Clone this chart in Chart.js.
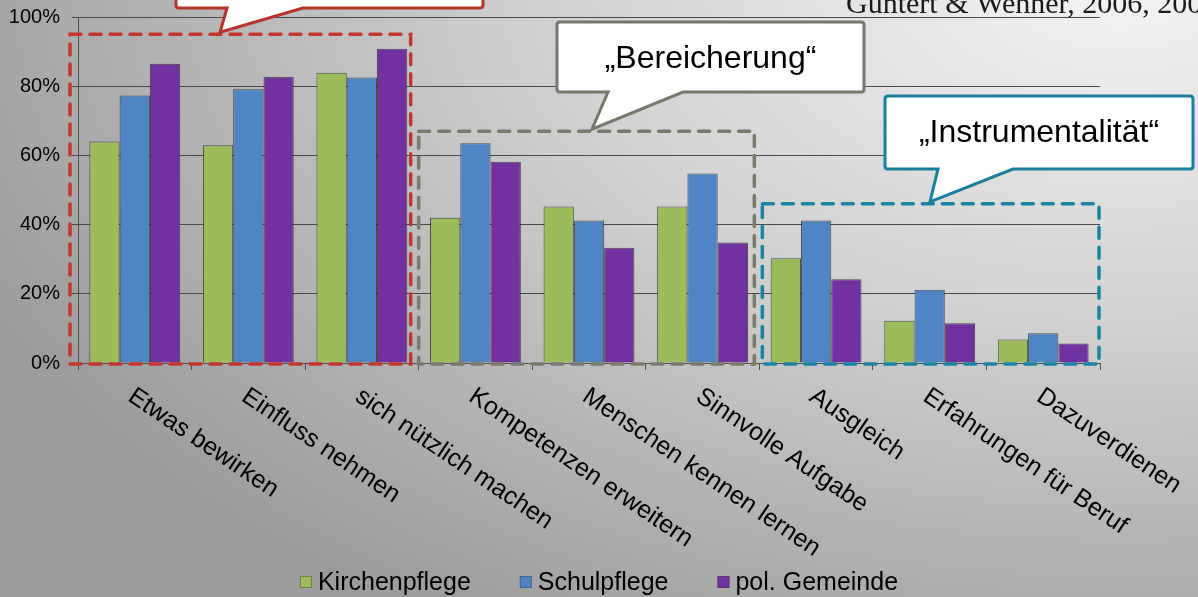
<!DOCTYPE html>
<html>
<head>
<meta charset="utf-8">
<script src="https://cdn.jsdelivr.net/npm/chart.js@4.4.1/dist/chart.umd.min.js"></script>
<style>
  html, body { margin: 0; padding: 0; overflow: hidden; background: #c0c0c0; }
  #wrap { position: relative; width: 1198px; height: 597px; }
  canvas { display: block; }
</style>
</head>
<body>
<div id="wrap"><canvas id="c" width="1198" height="597"></canvas></div>
<script>
// ---- data ----
const categories = [
  'Etwas bewirken', 'Einfluss nehmen', 'sich nützlich machen',
  'Kompetenzen erweitern', 'Menschen kennen lernen', 'Sinnvolle Aufgabe',
  'Ausgleich', 'Erfahrungen für Beruf', 'Dazuverdienen'
];
const seriesNames = ['Kirchenpflege', 'Schulpflege', 'pol. Gemeinde'];
const kirchenpflege = [64.0, 62.9, 83.9, 42.0, 45.2, 45.2, 30.3, 12.2, 6.8];
const schulpflege   = [77.3, 79.1, 82.5, 63.5, 41.2, 54.8, 41.2, 21.2, 8.6];
const polGemeinde   = [86.5, 82.7, 90.8, 58.2, 33.3, 34.8, 24.2, 11.5, 5.6];
const yTicks = [0, 20, 40, 60, 80, 100];

// motive groups: first/last category and the height each frame reaches
const groupFirst = [0, 3, 6];
const groupLast  = [2, 5, 8];
const groupTop   = [95, 67, 46];
const groupTitles = ['', '„Bereicherung“', '„Instrumentalität“'];
const sourceText = 'Güntert & Wehner, 2006, 2008';

// ---- styles / layout ----
const SANS = '"Liberation Sans", Arial, sans-serif';
const SERIF = '"Liberation Serif", "Times New Roman", serif';
const barColors = ['#9cbb5a', '#4f85c4', '#7131a0'];
const groupColors = ['#c4372f', '#7a7a6e', '#1984a3'];
const calloutBorders = ['#b8342c', '#77776b', '#17809e'];
// frame insets relative to category borders [left, right]
const frameInsets = [[-8, -8], [0, -5], [3, -1]];
// callout bodies [left, top, right, bottom], pointer base [x1, x2], tip x
const calloutBoxes = [[176, -60, 483, 8], [557, 22, 864, 92], [885, 96, 1193, 169]];
const calloutBase = [[227, 303], [608, 683], [938, 1013]];
const calloutTipX = [220, 592, 930];
const LABEL_FONT = 25;
const LABEL_ANGLE = 34;

const background = {
  id: 'background',
  beforeDraw(chart) {
    const { ctx } = chart;
    ctx.save();
    ctx.setTransform(1, 0, 0, 1, 0, 0);
    ctx.translate(1120, -20);
    ctx.scale(1, 0.6);
    const g = ctx.createRadialGradient(0, 0, 0, 0, 0, 1250);
    g.addColorStop(0, '#f4f4f4');
    g.addColorStop(0.45, '#d2d2d2');
    g.addColorStop(1, '#9c9c9c');
    ctx.fillStyle = g;
    ctx.fillRect(-1300, -100, 2600, 1400);
    ctx.restore();
  }
};

function roundedCallout(ctx, box, base, tip, r) {
  const [l, t, rt, b] = box;
  ctx.beginPath();
  ctx.moveTo(l + r, t);
  ctx.lineTo(rt - r, t);
  ctx.quadraticCurveTo(rt, t, rt, t + r);
  ctx.lineTo(rt, b - r);
  ctx.quadraticCurveTo(rt, b, rt - r, b);
  ctx.lineTo(base[1], b);
  ctx.lineTo(tip[0], tip[1]);
  ctx.lineTo(base[0], b);
  ctx.lineTo(l + r, b);
  ctx.quadraticCurveTo(l, b, l, b - r);
  ctx.lineTo(l, t + r);
  ctx.quadraticCurveTo(l, t, l + r, t);
  ctx.closePath();
}

const annotations = {
  id: 'annotations',
  afterDatasetsDraw(chart) {
    const { ctx } = chart;
    const xs = chart.scales.x, ys = chart.scales.y;
    const catW = xs.width / categories.length;
    ctx.save();
    groupFirst.forEach((first, k) => {
      const left = xs.getPixelForValue(first) - catW / 2 + frameInsets[k][0];
      const right = xs.getPixelForValue(groupLast[k]) + catW / 2 + frameInsets[k][1];
      const top = ys.getPixelForValue(groupTop[k]);
      const bottom = ys.getPixelForValue(0) + 1;
      ctx.strokeStyle = groupColors[k];
      ctx.lineWidth = 3.5;
      ctx.lineCap = 'round';
      ctx.setLineDash([11, 9]);
      ctx.strokeRect(left, top, right - left, bottom - top);
    });
    ctx.restore();
  },
  afterDraw(chart) {
    const { ctx } = chart;
    const xs = chart.scales.x, ys = chart.scales.y;

    // callouts, pointing at the top edge of their frame
    ctx.save();
    groupFirst.forEach((first, k) => {
      const top = ys.getPixelForValue(groupTop[k]) - 2;
      const box = calloutBoxes[k];
      ctx.setLineDash([]);
      ctx.lineJoin = 'miter';
      ctx.lineWidth = 3;
      ctx.fillStyle = '#ffffff';
      ctx.strokeStyle = calloutBorders[k];
      roundedCallout(ctx, box, calloutBase[k], [calloutTipX[k], top], 3);
      ctx.fill();
      ctx.stroke();
      if (groupTitles[k]) {
        ctx.fillStyle = '#000';
        ctx.font = '32px ' + SANS;
        ctx.textAlign = 'center';
        ctx.textBaseline = 'alphabetic';
        ctx.fillText(groupTitles[k], (box[0] + box[2]) / 2, box[1] + 46);
      }
    });
    ctx.restore();

    // source reference
    ctx.save();
    ctx.fillStyle = '#1a1a1a';
    ctx.font = '30px ' + SERIF;
    ctx.textAlign = 'left';
    ctx.textBaseline = 'alphabetic';
    ctx.fillText(sourceText, 846, 13);
    ctx.restore();

    // rotated category labels
    ctx.save();
    ctx.fillStyle = '#000';
    ctx.font = LABEL_FONT + 'px ' + SANS;
    ctx.textAlign = 'left';
    ctx.textBaseline = 'alphabetic';
    const capH = LABEL_FONT * 0.716;
    categories.forEach((name, i) => {
      const x = xs.getPixelForTick(i) + 2;
      const y = xs.top + 22;
      ctx.save();
      ctx.translate(x, y);
      ctx.rotate(LABEL_ANGLE * Math.PI / 180);
      ctx.fillText(name, 0, capH);
      ctx.restore();
    });
    ctx.restore();

    // legend
    ctx.save();
    ctx.font = '25px ' + SANS;
    ctx.textBaseline = 'middle';
    ctx.textAlign = 'left';
    const box = 12, textGap = 6, gap = 49;
    const widths = seriesNames.map(n => box + textGap + ctx.measureText(n).width);
    const total = widths.reduce((a, b) => a + b, 0) + gap * (seriesNames.length - 1);
    let x = chart.width / 2 - total / 2;
    const yMid = 582;
    chart.data.datasets.forEach((ds, i) => {
      ctx.fillStyle = ds.backgroundColor;
      ctx.fillRect(x, yMid - box / 2, box, box);
      ctx.strokeStyle = 'rgba(60,60,60,0.45)';
      ctx.lineWidth = 1;
      ctx.strokeRect(x + 0.5, yMid - box / 2 + 0.5, box - 1, box - 1);
      ctx.fillStyle = '#000';
      ctx.fillText(ds.label, x + box + textGap, yMid + 1);
      x += widths[i] + gap;
    });
    ctx.restore();
  }
};

const seriesData = [kirchenpflege, schulpflege, polGemeinde];

new Chart(document.getElementById('c'), {
  type: 'bar',
  data: {
    labels: categories,
    datasets: seriesNames.map((name, i) => ({
      label: name,
      data: seriesData[i],
      backgroundColor: barColors[i],
      borderColor: 'rgba(35,35,35,0.75)',
      borderWidth: 1,
      categoryPercentage: 0.8,
      barPercentage: 1.0
    }))
  },
  options: {
    responsive: false,
    animation: false,
    events: [],
    layout: { padding: { top: 17, right: 98, left: 0, bottom: 0 } },
    plugins: { legend: { display: false }, tooltip: { enabled: false } },
    scales: {
      x: {
        grid: { drawOnChartArea: false, drawTicks: true, tickLength: 7, color: '#505050', offset: true },
        border: { color: '#505050', width: 1 },
        ticks: { display: false },
        afterFit(s) { s.height = 234; s.paddingLeft = 0; s.paddingRight = 0; }
      },
      y: {
        min: 0, max: 100,
        afterBuildTicks(s) { s.ticks = yTicks.map(v => ({ value: v })); },
        ticks: {
          callback: v => v + '%',
          font: { family: SANS, size: 20 },
          color: '#000',
          padding: 12
        },
        grid: { color: '#4a4a4a', tickLength: 6, lineWidth: 1 },
        border: { color: '#505050', width: 1 },
        afterFit(s) { s.width = 78; s.paddingTop = 0; s.paddingBottom = 0; }
      }
    }
  },
  plugins: [background, annotations]
});
</script>
</body>
</html>
